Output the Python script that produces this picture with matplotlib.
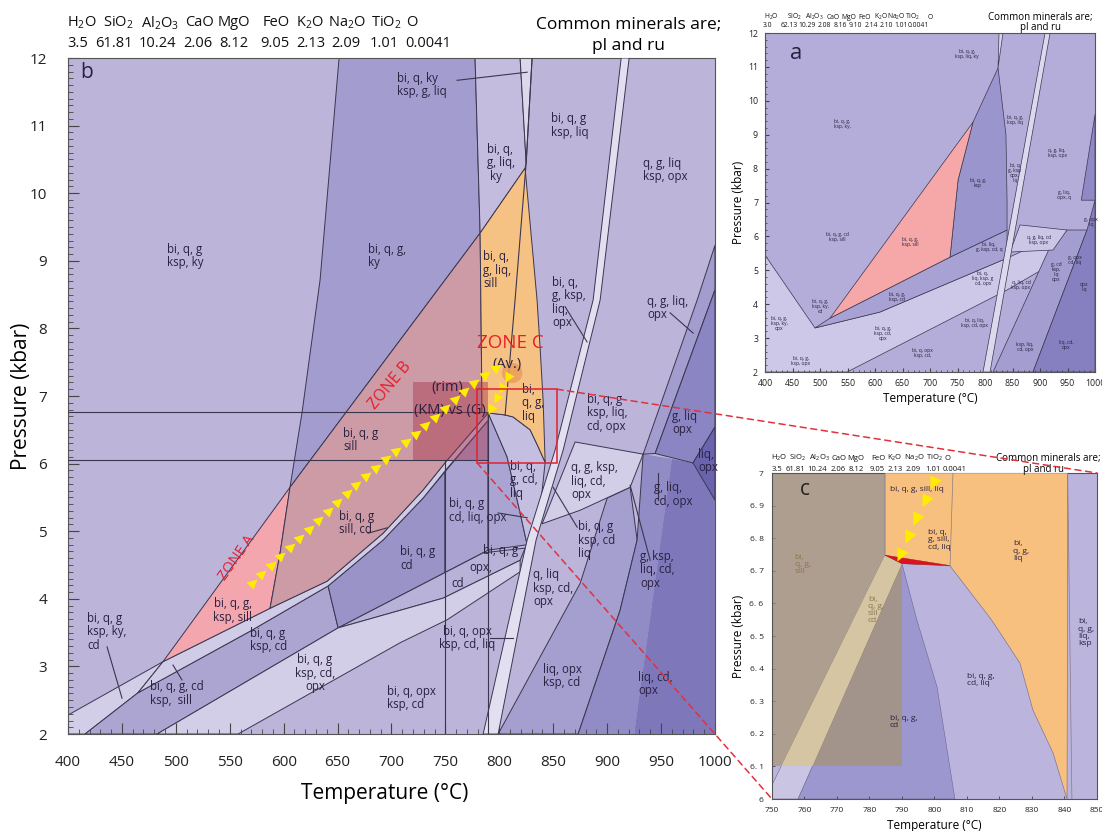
import numpy as np
import matplotlib.pyplot as plt
from matplotlib.patches import Polygon, Rectangle, Ellipse, ConnectionPatch
from matplotlib.markers import MarkerStyle
from matplotlib.transforms import Affine2D, blended_transform_factory
from matplotlib.ticker import MultipleLocator

plt.rcParams['font.family'] = ['Open Sans', 'DejaVu Sans']
plt.rcParams['mathtext.fontset'] = 'custom'
plt.rcParams['mathtext.rm'] = 'Open Sans'
plt.rcParams['mathtext.default'] = 'regular'

# =============================================================================
# bulk compositions
# =============================================================================
oxides = ['H$_2$O', 'SiO$_2$', 'Al$_2$O$_3$', 'CaO', 'MgO', 'FeO', 'K$_2$O', 'Na$_2$O', 'TiO$_2$', 'O']
comp_b = ['3.5', '61.81', '10.24', '2.06', '8.12', '9.05', '2.13', '2.09', '1.01', '0.0041']
comp_a = ['3.0', '62.13', '10.29', '2.08', '8.16', '9.10', '2.14', '2.10', '1.01', '0.0041']

# =============================================================================
# panel b: field outlines (T in C, P in kbar)
# =============================================================================
ky_field = [(651.4, 12), (777.5, 12), (782.2, 9.41), (605.9, 5.65), (617.1, 6.76), (633.8, 8.72)]
liq_ky_strip = [(777.5, 12), (819.3, 12), (824.9, 10.45), (823.9, 10.37), (782.2, 9.41)]
ky_liq_sliver = [(819.3, 12), (830.4, 12), (824.9, 10.45)]
liq_field = [(782.2, 9.41), (823.9, 10.37), (835.0, 8.42), (837.8, 7.72), (840.6, 6.94), (842.5, 6.02),
             (836.0, 6.25), (828.6, 6.50), (812.8, 6.69), (805.4, 6.72), (789.6, 6.75), (784.0, 6.76)]
zone_a = [(488.1, 3.07), (605.9, 5.65), (596.7, 4.68), (587.4, 3.86)]
zone_b = [(605.9, 5.65), (782.2, 9.41), (784.0, 6.76), (789.6, 6.75), (751.6, 6.05), (729.3, 5.61),
          (692.2, 4.97), (640.2, 4.26), (587.4, 3.86), (596.7, 4.68)]
ky_cd_band = [(400, 2.28), (488.1, 3.07), (464.9, 2.61), (415.8, 2.0), (400, 2.0)]
sill_cd_band = [(488.1, 3.07), (587.4, 3.86), (640.2, 4.26), (692.2, 4.97), (729.3, 5.61), (751.6, 6.05),
                (789.6, 6.75), (789.6, 6.64), (751.6, 5.93), (729.3, 5.49), (692.2, 4.87), (641.2, 4.19),
                (568.8, 3.52), (464.9, 2.61)]
ksp_cd_field = [(464.9, 2.61), (568.8, 3.52), (641.2, 4.19), (650.5, 3.57), (482.6, 2.0), (415.8, 2.0)]
cd_field = [(641.2, 4.19), (692.2, 4.87), (729.3, 5.49), (749.7, 5.88), (749.7, 4.39), (650.5, 3.57)]
cd_liq_opx_field = [(749.7, 5.88), (789.6, 6.64), (789.6, 4.72), (749.7, 4.39)]
opx_cd_wedge = [(650.5, 3.57), (785.0, 4.68), (823.9, 4.75), (819.3, 4.57), (747.9, 4.01)]
ksp_cd_opx_band = [(482.6, 2.0), (650.5, 3.57), (747.9, 4.01), (819.3, 4.57), (819.3, 4.40), (751.6, 3.69),
                   (708.0, 3.35), (557.7, 2.0)]
cd_liq_wedge = [(789.6, 6.75), (807.2, 6.10), (819.3, 5.27), (825.8, 4.80), (789.6, 4.72)]
cd_liq_field = [(789.6, 6.75), (805.4, 6.72), (812.8, 6.69), (828.6, 6.50), (836.0, 6.25), (842.5, 6.02),
                (838.8, 5.46), (825.8, 4.80), (819.3, 5.27), (807.2, 6.10)]
ksp_liq_cd_opx = [(870.3, 6.32), (933.4, 6.14), (921.3, 5.65), (874.9, 5.31), (839.7, 5.11)]
liq_opx_ksp_cd = [(798.9, 2.0), (873.1, 2.0), (912.0, 3.83), (927.8, 4.87), (921.3, 5.65), (900.0, 5.49),
                  (875.0, 4.23)]
g_ksp_liq_cd_opx = [(873.1, 2.0), (912.0, 3.83), (927.8, 4.87), (933.4, 6.14), (960.0, 6.07), (925.0, 2.0)]
liq_cd_opx = [(925.0, 2.0), (1000, 2.0), (1000, 5.46), (979.6, 6.01), (960.0, 6.07)]
liq_opx_wedge = [(1000, 6.54), (979.6, 6.01), (1000, 5.46)]
g_liq_opx = [(1000, 8.57), (944.5, 6.15), (979.6, 6.01), (1000, 6.54)]
q_g_liq_opx = [(1000, 9.23), (983.5, 8.42), (933.4, 6.14), (944.5, 6.15), (1000, 8.57)]
melt_band = [(913.0, 12), (887.0, 8.42), (851.7, 6.20), (825.8, 4.87), (785.0, 2.0),
             (798.9, 2.0), (834.1, 4.87), (859.2, 6.20), (893.5, 8.42), (920.4, 12)]
sill_liq_line = [(830.4, 12), (824.9, 10.45), (814.6, 8.42), (805.4, 6.72)]

# isobars / isotherms of the measured rim conditions
guide_P = [6.76, 6.06]
guide_T = [749.7, 789.6]
guide_T_top = [6.06, 6.75]
rim_T = (720.0, 789.6)
rim_P = (6.05, 7.21)
zoom_T = (779.4, 853.6)
zoom_P = (6.01, 7.10)

# P-T path
path_T = [571.6, 661.6, 726.5, 772.9, 797.9]
path_P = [4.25, 5.61, 6.50, 7.16, 7.43]
path2_T = [807.2, 791.5]
path2_P = [7.27, 6.79]
av_T, av_P = 811.9, 7.34

leaders = [
    [(760.8, 11.67), (825.8, 11.79)], [(436.2, 3.29), (450.1, 2.53)], [(497.4, 3.02), (505.7, 2.80)],
    [(678.3, 4.97), (695.9, 5.05)], [(861.0, 8.32), (881.4, 7.80)], [(958.4, 8.23), (979.8, 7.93)],
    [(947.3, 5.86), (947.3, 5.46)], [(849.9, 5.65), (872.2, 5.06)], [(798.9, 5.27), (825.8, 5.20)],
    [(791.5, 3.42), (812.8, 3.42)], [(921.3, 5.68), (939.9, 4.57)],
]

labels_b = [
    ("bi, q, g\nksp, ky", 491.8, 9.07, 'left'), ("bi, q, g,\nky", 678.3, 9.07, 'left'),
    ("bi, q, ky\nksp, g, liq", 705.2, 11.6, 'left'), ("bi, q,\ng, liq,\n ky", 788.7, 10.45, 'left'),
    ("bi, q, g\nksp, liq", 848.0, 11.0, 'left'), ("q, g, liq\nksp, opx", 933.4, 10.34, 'left'),
    ("bi, q,\ng, liq,\nsill", 785.0, 8.86, 'left'), ("bi, q,\ng, ksp,\nliq,\nopx", 849.0, 8.38, 'left'),
    ("q, g, liq,\nopx", 937.0, 8.30, 'left'), ("bi,\nq, g,\nliq", 821.0, 6.90, 'left'),
    ("bi, q, g\nksp, liq,\ncd, opx", 881.4, 6.75, 'left'), ("g, liq\nopx", 960.3, 6.60, 'left'),
    ("liq,\nopx", 984.4, 6.04, 'left'), ("bi, q,\ng, cd,\nliq", 810.0, 5.76, 'left'),
    ("q, g, ksp,\nliq, cd,\nopx", 866.6, 5.74, 'left'), ("bi, q, g\ncd, liq, opx", 753.4, 5.31, 'left'),
    ("g, liq,\ncd, opx", 943.6, 5.54, 'left'), ("bi, q, g\nksp, cd\nliq", 873.0, 4.87, 'left'),
    ("bi, q, g\nsill", 655.0, 6.35, 'left'), ("bi, q, g\nsill, cd", 651.4, 5.12, 'left'),
    ("bi, q, g\ncd", 708.0, 4.60, 'left'), ("bi, q, g", 785.0, 4.72, 'left'), ("opx,", 772.0, 4.47, 'left'),
    ("cd", 756.0, 4.23, 'left'), ("bi, q, g,\nksp, sill", 553.0, 3.83, 'center'),
    ("bi, q, g\nksp, cd", 568.8, 3.39, 'left'), ("bi, q, g\nksp, cd,\nopx", 629.0, 2.90, 'center'),
    ("bi, q, g\nksp, ky,\ncd", 417.6, 3.51, 'left'), ("bi, q, g, cd\nksp,  sill", 476.0, 2.60, 'left'),
    ("bi, q, opx\nksp, cd, liq", 770.0, 3.42, 'center'), ("bi, q, opx\nksp, cd", 696.0, 2.53, 'left'),
    ("q, liq\nksp, cd,\nopx", 831.4, 4.16, 'left'), ("liq, opx\nksp, cd", 840.6, 2.86, 'left'),
    ("g, ksp,\nliq, cd,\nopx", 930.6, 4.43, 'left'), ("liq, cd,\nopx", 928.7, 2.74, 'left'),
]

# =============================================================================
# panel a (composition a)
# =============================================================================
a_light = [(400, 5.45), (490.9, 3.30), (609, 3.77), (840, 5.36), (923.6, 5.98), (923.6, 5.21),
           (840, 4.42), (549.1, 2.0), (400, 2.0)]
a_cd_band = [(490.9, 3.30), (518.2, 3.59), (736.3, 5.39), (840, 6.19), (840, 5.36), (609, 3.77)]
a_pink = [(518.2, 3.59), (778.1, 9.37), (750.9, 7.66), (736.3, 5.39)]
a_ksp = [(778.1, 9.37), (823.6, 10.97), (838, 9.0), (840, 7.07), (840, 6.19), (736.3, 5.39), (750.9, 7.66)]
a_sliver = [(825.4, 12), (832.6, 12), (823.6, 10.97)]
a_melt = [(909.1, 12), (918.2, 12), (809.1, 2.0), (796.3, 2.0)]
a_light_r = [(863.6, 6.34), (949, 6.19), (923.6, 5.60), (845.5, 5.54)]
a_med_r = [(814.5, 2.0), (887.2, 2.0), (985.4, 6.19), (949, 6.19), (918.1, 5.69)]
a_dark_r = [(887.2, 2.0), (1000, 2.0), (1000, 7.07), (985.4, 6.19)]
a_dark_top = [(1000, 9.6), (975, 7.07), (1000, 7.07)]
labels_a = [
    ("bi, q, g,\nksp, ky,", 540, 9.32), ("bi, q, g,\nksp, liq, ky", 767, 11.38), ("bi, q, g,\nksp, liq", 854.5, 9.43),
    ("q, g, liq,\nksp, opx", 931, 8.46), ("bi, q, g,\nksp", 787, 7.57), ("bi, q,\ng, ksp\nopx,\nliq", 854.5, 7.87),
    ("g, liq,\nopx, q", 943.6, 7.22), ("g, opx\nliq", 992.7, 6.42), ("bi, q, g, cd\nksp, sill", 530.9, 5.98),
    ("bi, q, g,\nksp, sill", 663.6, 5.83), ("bi, liq,\ng, ksp, cd, q", 807, 5.69), ("q, g, liq, cd\nksp, opx", 898, 5.9),
    ("g, cd\nksp,\nliq\nopx", 929, 4.95), ("g, opx\ncd, liq", 963.6, 5.3), ("opx\nliq", 980, 4.5),
    ("bi, q,\nliq, ksp, g\ncd, opx", 796, 4.77), ("bi, q, g,\nksp, ky,\ncd", 500, 3.92),
    ("bi, q, g,\nksp, ky,\nopx", 425.5, 3.44), ("bi, q, g,\nksp, cd", 640, 4.21), ("q, liq, cd\nksp, opx", 865.4, 4.57),
    ("bi, q, g,\nksp, cd,\nopx", 614.5, 3.15), ("bi, q, opx\nksp, cd,", 687, 2.56), ("bi, q, g,\nksp, opx", 465.5, 2.32),
    ("bi, q, liq,\nksp, cd, opx", 780, 3.44), ("ksp, liq,\ncd, opx", 872.7, 2.74), ("liq, cd,\nopx", 947, 2.8),
]

# =============================================================================
# panel c (enlarged window)
# =============================================================================
c_liq = [(784.8, 7.0), (841.0, 7.0), (840.8, 6.0), (836.5, 6.141), (830.3, 6.273), (826.3, 6.417),
         (817.6, 6.549), (804.8, 6.715), (790.0, 6.722), (784.8, 6.748)]
c_wedge = [(784.8, 6.748), (804.8, 6.716), (790.0, 6.722)]
c_cd = [(790.0, 6.722), (794.6, 6.549), (800.8, 6.344), (806.3, 6.0), (758.0, 6.0)]
c_sill_cd = [(784.8, 6.748), (790.0, 6.722), (758.0, 6.0), (750.0, 6.0), (750.0, 6.043)]
c_box_T = (750, 790)
c_box_P = (6.1, 7.0)
c_path_T = [799.5, 789.4]
c_path_P = [6.97, 6.75]
labels_c = [
    ("bi, q, g, sill, liq", 786.3, 6.95, '#2a2140'), ("bi, q,\ng, sill,\ncd, liq", 798.0, 6.795, '#2a2140'),
    ("bi,\nq, g,\nliq", 824.2, 6.76, '#2a2140'), ("bi,\nq, g,\nsill", 757.0, 6.72, '#8a7650'),
    ("bi,\nq, g,\nsill\ncd", 779.5, 6.58, '#8a7650'), ("bi,\nq, g,\nliq,\nksp", 844.2, 6.51, '#2a2140'),
    ("bi, q, g,\ncd, liq", 810.0, 6.365, '#2a2140'), ("bi, q, g,\ncd", 786.3, 6.236, '#2a2140'),
]

LINE = '#3b3650'
TXT = '#2a2140'
YEL = '#ffec00'


def field(ax, pts, color, z=1, lw=0.7, ec=LINE, **kw):
    ax.add_patch(Polygon(pts, closed=True, fc=color, ec=ec, lw=lw, zorder=z, joinstyle='round', **kw))


def arrow_chain(ax, T, P, n, size):
    pts = ax.transData.transform(np.column_stack([T, P]))
    seg = np.hypot(*np.diff(pts, axis=0).T)
    s = np.concatenate([[0], np.cumsum(seg)])
    d = np.linspace(0, s[-1], n)
    xs = np.interp(d, s, pts[:, 0])
    ys = np.interp(d, s, pts[:, 1])
    idx = np.clip(np.searchsorted(s, d, side='right') - 1, 0, len(seg) - 1)
    dxy = np.diff(pts, axis=0)
    ang = np.degrees(np.arctan2(dxy[idx, 1], dxy[idx, 0]))
    data = ax.transData.inverted().transform(np.column_stack([xs, ys]))
    for (t, p), a in zip(data, ang):
        ax.plot(t, p, marker=MarkerStyle('>', transform=Affine2D().rotate_deg(a)), ms=size,
                color=YEL, mec='none', zorder=9)


def style_axes(ax, xmaj, xmin, ymaj, ymin, lsize, pad, maj_len, min_len):
    ax.xaxis.set_major_locator(MultipleLocator(xmaj))
    ax.xaxis.set_minor_locator(MultipleLocator(xmin))
    ax.yaxis.set_major_locator(MultipleLocator(ymaj))
    ax.yaxis.set_minor_locator(MultipleLocator(ymin))
    ax.tick_params(which='both', direction='in', top=False, right=False, colors='#444444',
                   labelcolor='#222222', labelsize=lsize, pad=pad)
    ax.tick_params(which='major', length=maj_len, width=0.8)
    ax.tick_params(which='minor', length=min_len, width=0.6)
    for sp in ax.spines.values():
        sp.set_color('#555555')
        sp.set_linewidth(0.8)


def header(ax, ox_x, val_x, values, y1, y2, size):
    tr = blended_transform_factory(ax.transData, ax.transAxes)
    for name, x in zip(oxides, ox_x):
        ax.text(x, y1, name, transform=tr, ha='center', va='center', fontsize=size, color='#111111', clip_on=False)
    for v, x in zip(values, val_x):
        ax.text(x, y2, v, transform=tr, ha='center', va='center', fontsize=size, color='#111111', clip_on=False)


fig = plt.figure(figsize=(11.02, 8.31), dpi=100)

# =============================================================================
# PANEL b
# =============================================================================
ax = fig.add_axes([0.0617, 0.1167, 0.5871, 0.8135])
ax.set_xlim(400, 1000)
ax.set_ylim(2, 12)
ax.set_facecolor('#bcb4d9')

field(ax, ky_field, '#a39dcf')
field(ax, liq_ky_strip, '#c3bcdf')
field(ax, ky_liq_sliver, '#dcd8ec')
field(ax, ky_cd_band, '#d3cee8')
field(ax, ksp_cd_field, '#aca5d2')
field(ax, cd_field, '#9a93c8')
field(ax, cd_liq_opx_field, '#aaa3d1')
field(ax, opx_cd_wedge, '#b8b1d8')
field(ax, ksp_cd_opx_band, '#d3cee8')
field(ax, cd_liq_wedge, '#aaa4d2')
field(ax, cd_liq_field, '#c4bee1')
field(ax, liq_opx_ksp_cd, '#a59fd0')
field(ax, g_ksp_liq_cd_opx, '#918bc6', lw=0)
field(ax, liq_cd_opx, '#7e78bb', lw=0)
ax.plot([873.1, 912.0, 927.8, 933.4], [2.0, 3.83, 4.87, 6.14], color=LINE, lw=0.7, zorder=1.5)
field(ax, ksp_liq_cd_opx, '#d3cee8')
field(ax, q_g_liq_opx, '#a39dcf')
field(ax, g_liq_opx, '#8b85c3')
field(ax, liq_opx_wedge, '#6a64ae')
field(ax, sill_cd_band, '#d0cbe6')
field(ax, zone_a, '#f3a6ad', z=2)
field(ax, zone_b, '#cc9ba6', z=2)
field(ax, liq_field, '#f6c283', z=2)
field(ax, melt_band, '#e2dff0', z=3)

for p in guide_P:
    ax.plot([400, 789.6], [p, p], color=LINE, lw=0.8, zorder=4)
for t, top in zip(guide_T, guide_T_top):
    ax.plot([t, t], [2, top], color=LINE, lw=0.8, zorder=4)
ax.plot(*zip(*sill_liq_line), color=LINE, lw=0.8, zorder=4)
for seg in leaders:
    ax.plot(*zip(*seg), color=LINE, lw=0.8, zorder=4)

ax.add_patch(Rectangle((rim_T[0], rim_P[0]), rim_T[1] - rim_T[0], rim_P[1] - rim_P[0],
                       fc='#a8364f', alpha=0.45, ec='none', zorder=5))
ax.add_patch(Ellipse((av_T, av_P), 19, 0.30, fc='#eb9e5c', alpha=0.85, ec='none', zorder=5))
ax.add_patch(Rectangle((zoom_T[0], zoom_P[0]), zoom_T[1] - zoom_T[0], zoom_P[1] - zoom_P[0],
                       fc='none', ec='#e3202e', lw=1.1, zorder=10))

for txt, t, p, ha in labels_b:
    ax.text(t, p, txt, ha=ha, va='center', fontsize=8.3, color=TXT, linespacing=1.05, zorder=6)

ax.text(557, 4.60, 'ZONE A', rotation=55, color='#ea1c2a', fontsize=10.5, ha='center', va='center', zorder=7)
ax.text(699, 7.16, 'ZONE B', rotation=50, color='#ea1c2a', fontsize=11.5, ha='center', va='center', zorder=7)
ax.text(810, 7.78, 'ZONE C', color='#ea1c2a', fontsize=13.5, ha='center', va='center', zorder=7)
ax.text(807, 7.46, '(Av.)', color=TXT, fontsize=10.5, ha='center', va='center', zorder=7)
ax.text(751.6, 7.12, '(rim)', color=TXT, fontsize=10.5, ha='center', va='center', zorder=7)
ax.text(754.4, 6.79, '(KM) vs (G)', color=TXT, fontsize=10.5, ha='center', va='center', zorder=7)
ax.text(411, 11.78, 'b', fontsize=15, color=TXT, ha='left', va='center', zorder=7)

style_axes(ax, 50, 10, 1, 0.1, 11, 15, 8, 3.6)
ax.set_xlabel('Temperature (°C)', fontsize=15)
ax.set_ylabel('Pressure (kbar)', fontsize=15)
ax.xaxis.set_label_coords(0.49, -0.072)
ax.yaxis.set_label_coords(-0.056, 0.5)

header(ax, [413, 446.4, 485.3, 521.5, 554, 593, 624.5, 658.8, 695, 719.1],
       [409.3, 442.7, 482.6, 520.6, 554, 592, 625.4, 657.9, 693.1, 733.9], comp_b, 1.052, 1.021, 10.5)
trb = blended_transform_factory(ax.transData, ax.transAxes)
ax.text(919.5, 1.049, 'Common minerals are;', transform=trb, ha='center', va='center', fontsize=12.5, clip_on=False)
ax.text(919.5, 1.018, 'pl and ru', transform=trb, ha='center', va='center', fontsize=12.5, clip_on=False)

# =============================================================================
# PANEL a
# =============================================================================
axa = fig.add_axes([0.6942, 0.5523, 0.2995, 0.4079])
axa.set_xlim(400, 1000)
axa.set_ylim(2, 12)
axa.set_facecolor('#b4add9')
field(axa, a_light, '#cdc8e7', lw=0.5)
field(axa, a_cd_band, '#a8a1d3', lw=0.5)
field(axa, a_ksp, '#9b95cd', lw=0.5)
field(axa, a_pink, '#f6a8a8', lw=0.5)
field(axa, a_sliver, '#d8d4ec', lw=0.5)
field(axa, a_med_r, '#a39dd0', lw=0.5)
field(axa, a_dark_r, '#8680c1', lw=0.5)
field(axa, a_dark_top, '#8f89c6', lw=0.5)
field(axa, a_light_r, '#cbc6e6', lw=0.5)
field(axa, a_melt, '#dcd8ee', lw=0.5, z=2)
for txt, t, p in labels_a:
    axa.text(t, p, txt, ha='center', va='center', fontsize=3.6, color=TXT, linespacing=1.0, zorder=6)
axa.text(445.5, 11.41, 'a', fontsize=16, color=TXT, ha='left', va='center')
style_axes(axa, 50, 10, 1, 0.2, 6.3, 5, 3, 1.5)
axa.set_xlabel('Temperature (°C)', fontsize=8.5)
axa.set_ylabel('Pressure (kbar)', fontsize=8.5)
axa.xaxis.set_label_coords(0.5, -0.058)
axa.yaxis.set_label_coords(-0.062, 0.5)
header(axa, [411, 453, 490, 524, 553, 582, 610, 638, 669, 700],
       [405, 444, 476, 508, 536, 565, 593, 621, 647, 678], comp_a, 1.047, 1.021, 4.9)
tra = blended_transform_factory(axa.transData, axa.transAxes)
axa.text(900, 1.045, 'Common minerals are;', transform=tra, ha='center', va='center', fontsize=7, clip_on=False)
axa.text(900, 1.015, 'pl and ru', transform=tra, ha='center', va='center', fontsize=7, clip_on=False)

# =============================================================================
# PANEL c
# =============================================================================
axc = fig.add_axes([0.7005, 0.0385, 0.2949, 0.3923])
axc.set_xlim(750, 850)
axc.set_ylim(6, 7)
axc.set_facecolor('#bbb4dc')
field(axc, c_cd, '#9d97cf', lw=0.4, ec='#6d6690')
field(axc, c_sill_cd, '#cbc5e4', lw=0.4, ec='#6d6690')
box = Rectangle((c_box_T[0], c_box_P[0]), c_box_T[1] - c_box_T[0], c_box_P[1] - c_box_P[0],
                fc='#a69262', alpha=0.62, ec='none', zorder=2)
axc.add_patch(box)
band_in_box = Polygon(c_sill_cd, closed=True, fc='#d6c5a3', ec='none', zorder=2.5)
axc.add_patch(band_in_box)
band_in_box.set_clip_path(box)
field(axc, c_liq, '#f7c07e', lw=0.4, ec='#6d6690', z=3)
field(axc, c_wedge, '#e0101f', lw=0.3, ec='#a01020', z=3.5)
axc.plot([805.7, 804.8], [7.0, 6.715], color='#8a7a80', lw=0.5, zorder=3.6)
axc.plot([841.0, 842.3], [7.0, 6.0], color='#8a7a80', lw=0.5, zorder=3.6)
for txt, t, p, col in labels_c:
    axc.text(t, p, txt, ha='left', va='center', fontsize=6, color=col, linespacing=1.05, zorder=6)
axc.text(758.6, 6.95, 'c', fontsize=15, color='#222222', ha='left', va='center', zorder=6)
axc.set_xticks(np.arange(750, 851, 10))
axc.set_yticks(np.arange(6.0, 7.01, 0.1))
axc.set_yticklabels(['6', '6. 1', '6. 2', '6. 3', '6. 4', '6. 5', '6. 6', '6. 7', '6. 8', '6. 9', '7'])
axc.tick_params(direction='in', length=2.5, width=0.6, colors='#444444', labelcolor='#222222',
                labelsize=6, pad=6)
for sp in axc.spines.values():
    sp.set_color('#555555')
    sp.set_linewidth(0.8)
axc.set_xlabel('Temperature (°C)', fontsize=8.5)
axc.set_ylabel('Pressure (kbar)', fontsize=8.5)
axc.xaxis.set_label_coords(0.5, -0.06)
axc.yaxis.set_label_coords(-0.083, 0.5)
header(axc, [752.2, 757.7, 764.5, 770.6, 775.9, 782.6, 787.9, 793.8, 799.9, 803.9],
       [751.5, 757.1, 763.8, 770.3, 775.9, 782.3, 787.9, 793.4, 799.5, 806.3], comp_b, 1.046, 1.012, 5.5)
trc = blended_transform_factory(axc.transData, axc.transAxes)
axc.text(834.9, 1.046, 'Common minerals are;', transform=trc, ha='center', va='center', fontsize=7, clip_on=False)
axc.text(833.5, 1.012, 'pl and ru', transform=trc, ha='center', va='center', fontsize=7, clip_on=False)

# P-T path arrows
arrow_chain(ax, path_T, path_P, 26, 7)
arrow_chain(ax, path2_T, path2_P, 4, 7)
arrow_chain(axc, c_path_T, c_path_P, 5, 9)

# zoom connectors from the red box to panel c
for xa, xb in [((zoom_T[1], zoom_P[1]), (1, 1)), ((zoom_T[0], zoom_P[0]), (0, 0))]:
    con = ConnectionPatch(xyA=xa, coordsA=ax.transData, xyB=xb, coordsB=axc.transAxes,
                          color='#e3303c', lw=1.1, linestyle=(0, (4, 3)), zorder=20)
    fig.add_artist(con)

fig.savefig('out.png', dpi=100)
